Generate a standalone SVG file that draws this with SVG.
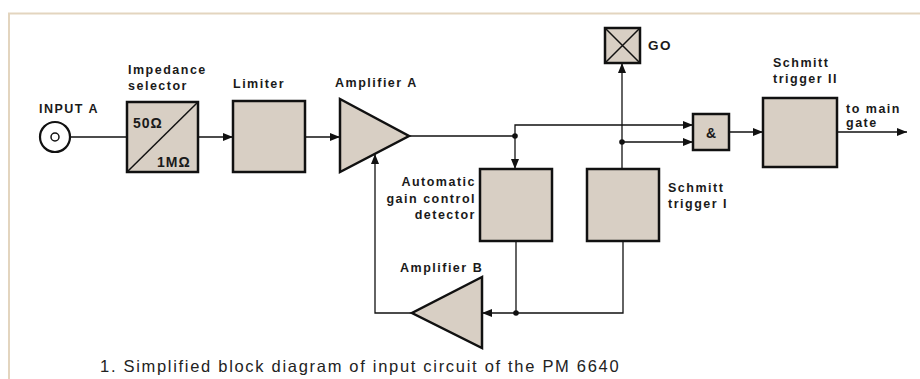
<svg xmlns="http://www.w3.org/2000/svg" width="920" height="379" viewBox="0 0 920 379">
<defs>
<style>
.blk{fill:#d8cfc4;stroke:#111;stroke-width:2.5}
.ln{fill:none;stroke:#111;stroke-width:1.3}
.lbl{font-family:"Liberation Sans",Arial,sans-serif;font-weight:bold;font-size:12.5px;letter-spacing:1.5px;fill:#1a1a1a}
.cap{font-family:"Liberation Sans",Arial,sans-serif;font-size:16.5px;letter-spacing:1.7px;fill:#222}
.dot{fill:#111}
</style>
<marker id="ah" viewBox="0 0 10 8" refX="10" refY="4" markerWidth="10" markerHeight="8" markerUnits="userSpaceOnUse" orient="auto">
<path d="M0,0 L10,4 L0,8 Z" fill="#111"/>
</marker>
</defs>
<rect width="920" height="379" fill="#fff"/>
<path d="M9,379 V13.5 H920" fill="none" stroke="#e3d5bf" stroke-width="2"/>

<g id="connectors">
<line class="ln" x1="71" y1="137" x2="127" y2="137"/>
<line class="ln" x1="198" y1="137" x2="233" y2="137" marker-end="url(#ah)"/>
<line class="ln" x1="305" y1="137" x2="340" y2="137" marker-end="url(#ah)"/>
<line class="ln" x1="409" y1="136" x2="515" y2="136"/>
<line class="ln" x1="515" y1="136" x2="515" y2="169" marker-end="url(#ah)"/>
<polyline class="ln" points="515,136 515,125 693,125" marker-end="url(#ah)"/>
<line class="ln" x1="622" y1="169" x2="622" y2="63" marker-end="url(#ah)"/>
<line class="ln" x1="622" y1="142" x2="693" y2="142" marker-end="url(#ah)"/>
<line class="ln" x1="729" y1="132" x2="763" y2="132" marker-end="url(#ah)"/>
<line class="ln" x1="837" y1="132" x2="907" y2="132" marker-end="url(#ah)"/>
<line class="ln" x1="516" y1="241" x2="516" y2="313"/>
<polyline class="ln" points="623,241 623,313 482,313" marker-end="url(#ah)"/>
<polyline class="ln" points="412,313 375,313 375,154" marker-end="url(#ah)"/>
<circle class="dot" cx="515" cy="136" r="2.8"/>
<circle class="dot" cx="622" cy="142" r="2.8"/>
<circle class="dot" cx="516" cy="313" r="2.8"/>
</g>

<g id="input-a">
<circle cx="55" cy="137" r="15" fill="#fff" stroke="#111" stroke-width="2.2"/>
<circle cx="55" cy="137" r="4" fill="#fff" stroke="#111" stroke-width="1.5"/>
<text class="lbl" x="39" y="113">INPUT A</text>
</g>

<g id="impedance-selector">
<rect class="blk" x="127" y="102" width="71" height="70"/>
<line x1="127" y1="172" x2="198" y2="102" stroke="#111" stroke-width="1.5"/>
<text class="lbl" x="128" y="74">Impedance</text>
<text class="lbl" x="128" y="90">selector</text>
<text class="lbl" x="133" y="128" style="font-size:14px;letter-spacing:1px">50Ω</text>
<text class="lbl" x="157" y="167" style="font-size:14px;letter-spacing:1px">1MΩ</text>
</g>

<g id="limiter">
<rect class="blk" x="233" y="101" width="72" height="71"/>
<text class="lbl" x="233" y="88">Limiter</text>
</g>

<g id="amplifier-a">
<polygon class="blk" points="340,99 409,136 340,172"/>
<text class="lbl" x="335" y="87">Amplifier A</text>
</g>

<g id="agc-detector">
<rect class="blk" x="480" y="169" width="72" height="72"/>
<text class="lbl" x="476" y="186" text-anchor="end">Automatic</text>
<text class="lbl" x="476" y="203" text-anchor="end">gain control</text>
<text class="lbl" x="476" y="219" text-anchor="end">detector</text>
</g>

<g id="schmitt-trigger-1">
<rect class="blk" x="587" y="169" width="72" height="72"/>
<text class="lbl" x="668" y="192">Schmitt</text>
<text class="lbl" x="668" y="208">trigger I</text>
</g>

<g id="amplifier-b">
<polygon class="blk" points="482,277 412,313 482,348"/>
<text class="lbl" x="400" y="272">Amplifier B</text>
</g>

<g id="go">
<rect class="blk" x="605" y="28" width="35" height="35"/>
<path d="M605,28 L640,63 M640,28 L605,63" stroke="#111" stroke-width="1.5"/>
<text class="lbl" x="648" y="50" style="font-size:13.5px">GO</text>
</g>

<g id="and-gate">
<rect class="blk" x="693" y="114" width="36" height="36"/>
<text class="lbl" x="711" y="138" text-anchor="middle" style="letter-spacing:0;font-size:14px">&amp;</text>
</g>

<g id="schmitt-trigger-2">
<rect class="blk" x="763" y="98" width="74" height="69"/>
<text class="lbl" x="773" y="67">Schmitt</text>
<text class="lbl" x="773" y="83">trigger II</text>
<text class="lbl" x="846" y="113">to main</text>
<text class="lbl" x="846" y="127">gate</text>
</g>

<text class="cap" x="100" y="372">1. Simplified block diagram of input circuit of the PM 6640</text>
</svg>
